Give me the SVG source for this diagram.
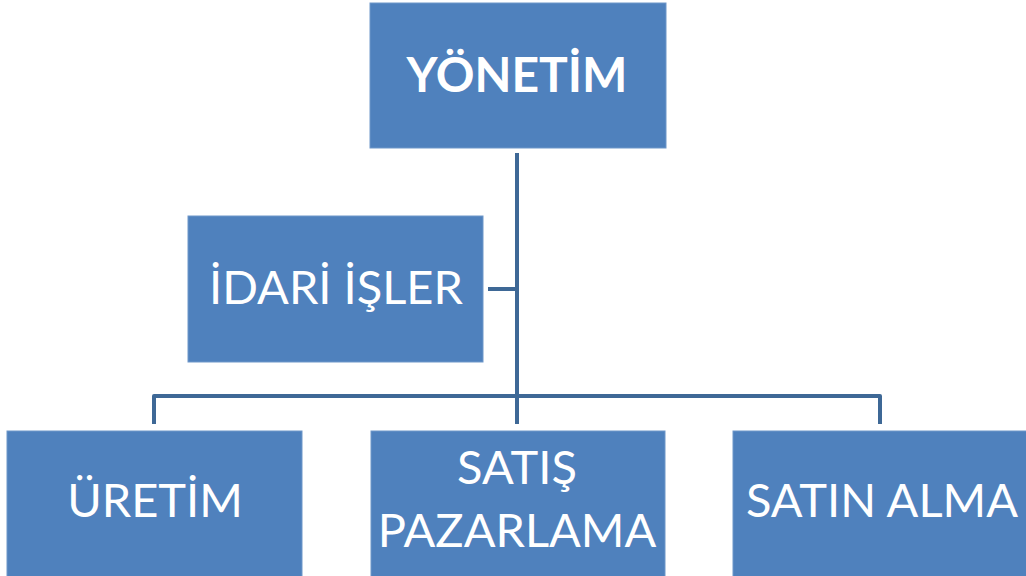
<svg xmlns="http://www.w3.org/2000/svg" width="1026" height="576" viewBox="0 0 1026 576">
<style>
.box{fill:#4F81BD;stroke:#6F97C9;stroke-width:1}
.t{fill:#FFFFFF;font-family:Lato,"Open Sans","Liberation Sans",sans-serif;font-size:47px;text-anchor:middle}
.b{font-weight:bold;font-size:48px}
.c{fill:none;stroke:#3E6896;stroke-width:4;stroke-linejoin:round}
</style>
<rect width="1026" height="576" fill="#FFFFFF"/>
<g id="connectors">
<path class="c" d="M517 153 V424"/>
<path class="c" d="M488 289 H517"/>
<path class="c" d="M154 424 V396 H880 V424"/>
</g>
<g id="yonetim">
<rect class="box" x="370" y="3" width="296" height="145"/>
<text class="t b" x="517" y="92">YÖNETİM</text>
</g>
<g id="idari">
<rect class="box" x="188" y="216" width="295" height="146"/>
<text class="t" x="336" y="304">İDARİ İŞLER</text>
</g>
<g id="uretim">
<rect class="box" x="7" y="431" width="295" height="146"/>
<text class="t" x="155" y="517">ÜRETİM</text>
</g>
<g id="satis">
<rect class="box" x="371" y="431" width="294" height="146"/>
<text class="t" x="517" y="484">SATIŞ</text>
<text class="t" x="517" y="547">PAZARLAMA</text>
</g>
<g id="satinalma">
<rect class="box" x="733" y="431" width="295" height="146"/>
<text class="t" x="882" y="517">SATIN ALMA</text>
</g>
</svg>
